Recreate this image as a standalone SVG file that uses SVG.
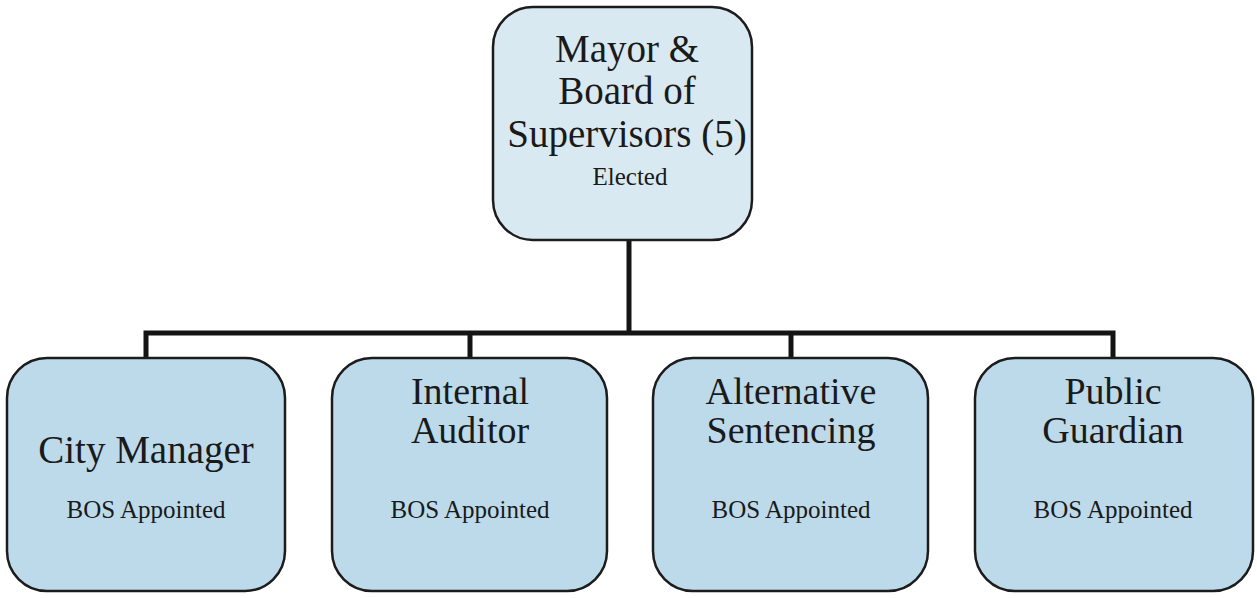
<svg xmlns="http://www.w3.org/2000/svg" width="1257" height="598" viewBox="0 0 1257 598">
  <style>
    .box { stroke: #1c1c1c; stroke-width: 2.5; }
    .top { fill: #d9e9f2; }
    .unit { fill: #bddaeb; }
    .title { font-family: "Liberation Serif", "Times New Roman", serif; font-size: 39px; fill: #1a1a1a; text-anchor: middle; }
    .pair { font-size: 38px; }
    .sub { font-family: "Liberation Serif", "Times New Roman", serif; font-size: 25px; fill: #1a1a1a; text-anchor: middle; }
    .link { stroke: #141414; stroke-width: 5; fill: none; }
  </style>

  <rect width="1257" height="598" fill="#ffffff"/>

  <!-- reporting lines -->
  <g id="connectors">
    <path class="link" d="M629 240 V333"/>
    <path class="link" d="M146 358 V333 H1113 V358"/>
    <path class="link" d="M470 333 V358"/>
    <path class="link" d="M791 333 V358"/>
  </g>

  <g id="mayor-board">
    <rect class="box top" x="493" y="7" width="259" height="233" rx="40" ry="40"/>
    <text class="title" x="627" y="62">Mayor &amp;</text>
    <text class="title" x="627" y="104">Board of</text>
    <text class="title" x="627" y="147">Supervisors (5)</text>
    <text class="sub" x="630" y="185">Elected</text>
  </g>

  <g id="city-manager">
    <rect class="box unit" x="7" y="358" width="278" height="233" rx="40" ry="40"/>
    <text class="title" x="146" y="463">City Manager</text>
    <text class="sub" x="146" y="518">BOS Appointed</text>
  </g>

  <g id="internal-auditor">
    <rect class="box unit" x="332" y="358" width="275" height="233" rx="40" ry="40"/>
    <text class="title pair" x="470" y="404">Internal</text>
    <text class="title pair" x="470" y="443">Auditor</text>
    <text class="sub" x="470" y="518">BOS Appointed</text>
  </g>

  <g id="alternative-sentencing">
    <rect class="box unit" x="653" y="358" width="275" height="233" rx="40" ry="40"/>
    <text class="title pair" x="791" y="404">Alternative</text>
    <text class="title pair" x="791" y="443">Sentencing</text>
    <text class="sub" x="791" y="518">BOS Appointed</text>
  </g>

  <g id="public-guardian">
    <rect class="box unit" x="975" y="358" width="278" height="233" rx="40" ry="40"/>
    <text class="title pair" x="1113" y="404">Public</text>
    <text class="title pair" x="1113" y="443">Guardian</text>
    <text class="sub" x="1113" y="518">BOS Appointed</text>
  </g>
</svg>
